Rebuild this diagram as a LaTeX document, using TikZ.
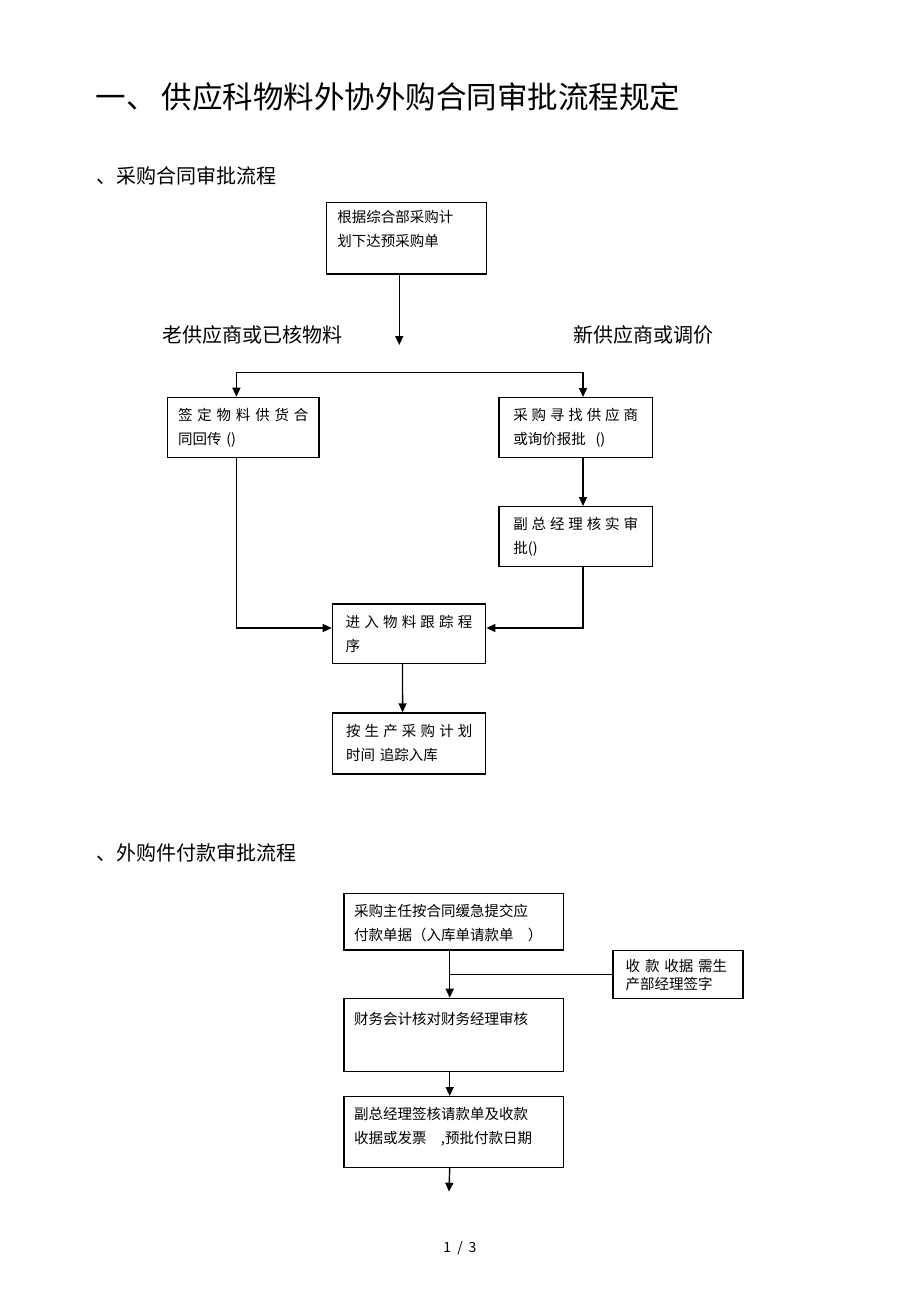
\documentclass[tikz,border=0pt]{standalone}
\usepackage{fontspec}
\setmainfont{Noto Sans CJK SC}
\usepackage{tikz}
\usetikzlibrary{arrows.meta,positioning}

\newcommand{\spread}[1]{\makebox[\linewidth][s]{\spaceskip=3pt plus 1fil #1}}

\tikzset{
  stepbox/.style={draw, anchor=north west, align=left, inner xsep=11pt, inner ysep=8pt,
    text height=15pt, font=\fontsize{14.5}{24}\selectfont},
  branch/.style={font=\fontsize{20}{24}\selectfont},
  heading/.style={anchor=west, inner sep=0pt, font=\fontsize{20}{24}\selectfont},
}

\begin{document}
\begin{tikzpicture}[x=1pt, y=-1pt, line width=1.4pt, >={Triangle[length=9pt,width=8pt]}]
\useasboundingbox (0,0) rectangle (920,1304);

% headings
\node (title) [heading, font=\fontsize{30.5}{34}\selectfont] at (95,97) {一、\,供应科物料外协外购合同审批流程规定};
\node (sec1) [heading] at (96,176) {、采购合同审批流程};
\node (sec2) [heading] at (96,853) {、外购件付款审批流程};

% purchase contract flow
\node (plan) [stepbox, text width=138pt, text height=12.5pt, text depth=43pt] at (325.7,201.7) {根据综合部采购计\\划下达预采购单};
\node (oldsup) [branch] at (252,335) {老供应商或已核物料};
\node (newsup) [branch] at (643.5,335) {新供应商或调价};
\node (sign) [stepbox, inner xsep=10.6pt, text width=130.4pt, text depth=29pt] at (166.7,396.7) {\spread{签 定 物 料 供 货 合}\\同回传 ()};
\node (search) [stepbox, inner xsep=14.4pt, text width=124.6pt, text depth=29pt] at (498.3,397) {\spread{采 购 寻 找 供 应 商}\\或询价报批\ \ ()};
\node (vpcheck) [stepbox, inner xsep=14.4pt, text width=124.6pt, text depth=29pt] at (498.3,506) {\spread{副 总 经 理 核 实 审}\\批()};
\node (track) [stepbox, inner xsep=13.3pt, text width=126.7pt, text depth=28.4pt] at (331.7,603.3) {\spread{进 入 物 料 跟 踪 程}\\序};
\node (stock) [stepbox, inner xsep=13.3pt, text width=126.4pt, text depth=30pt] at (332,712.3) {\spread{按 生 产 采 购 计 划}\\时间 追踪入库};

\coordinate (split) at (399.3,345);
\coordinate (fork) at (399.3,372.7);
\draw[->] (plan.south -| split) -- (split);
\draw[->] (fork) -| ([xshift=-6.8pt]sign.north);
\draw[->] (fork) -| ([xshift=7.3pt]search.north);
\draw[->] ([xshift=7.3pt]search.south) -- ([xshift=7.3pt]vpcheck.north);
\draw[->] ([xshift=-6.8pt]sign.south) |- ([yshift=5.7pt]track.west);
\draw[->] ([xshift=7.3pt]vpcheck.south) |- ([yshift=5.7pt]track.east);
\draw[->] ([xshift=-6.6pt]track.south) -- ([xshift=-6.6pt]stock.north);

% payment flow
\node (submit) [stepbox, inner xsep=10pt, text width=199.4pt, text depth=25.6pt] at (343.3,892.7) {采购主任按合同缓急提交应\\付款单据（入库单请款单\ \ \ ）};
\node (receipt) [stepbox, inner xsep=12.7pt, text width=104.6pt, text height=12.5pt, text depth=19.2pt, font=\fontsize{14.5}{18}\selectfont] at (612.3,950) {收 款 收据 需生\\产部经理签字};
\node (account) [stepbox, inner xsep=10pt, text width=199.4pt, text height=18pt, text depth=39pt] at (343.3,997.7) {财务会计核对财务经理审核};
\node (vpsign) [stepbox, inner xsep=10pt, text width=199.4pt, text depth=39.7pt] at (343.3,1096) {副总经理签核请款单及收款\\收据或发票\ \ \ ,预批付款日期};

\coordinate (gline) at ([xshift=-4pt]submit.south);
\coordinate (next) at (449,1191.7);
\draw[->] (gline) -- ([xshift=-4pt]account.north);
\draw (receipt.west) -- (receipt.west -| gline);
\draw[->] ([xshift=-4pt]account.south) -- ([xshift=-4pt]vpsign.north);
\draw[->] ([xshift=-4pt]vpsign.south) -- (next);

\node (page) [font=\fontsize{14}{16}\selectfont] at (460,1248) {1\hspace{6pt}/\hspace{6pt}3};
\end{tikzpicture}
\end{document}
